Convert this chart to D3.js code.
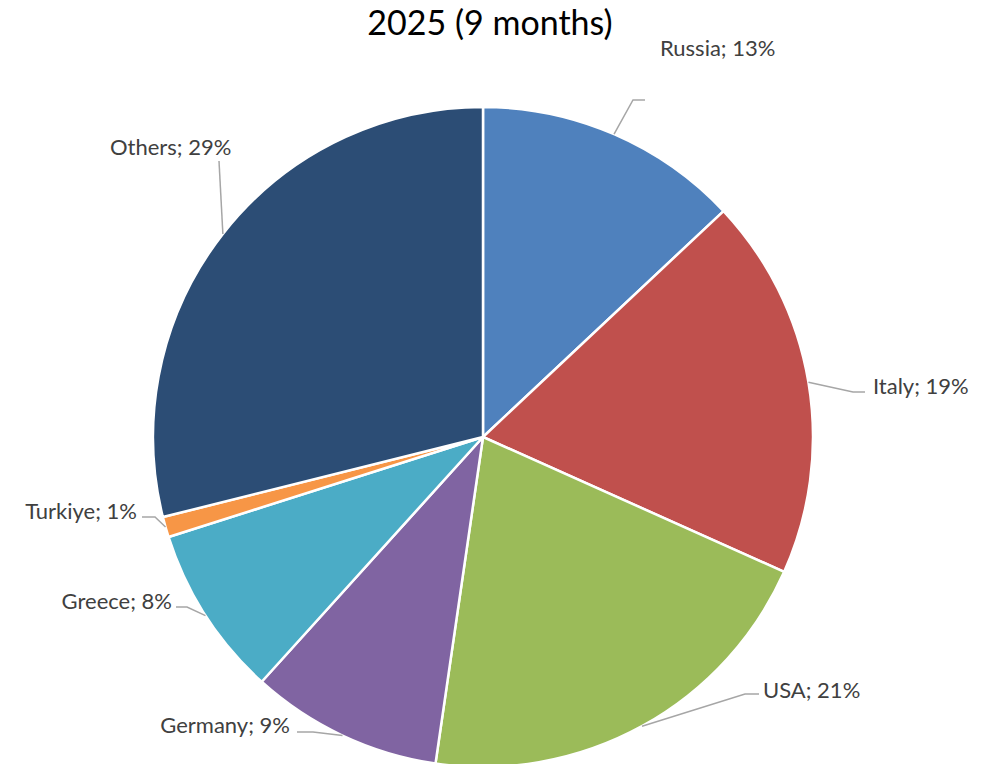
<!DOCTYPE html>
<html>
<head>
<meta charset="utf-8">
<script src="https://cdn.jsdelivr.net/npm/d3@7"></script>
<style>
  html, body { margin: 0; padding: 0; background: #ffffff; }
  svg { display: block; }
</style>
</head>
<body>
<div id="chart"></div>
<script>
// ---- data ----
const title = "2025 (9 months)";
const categories = ["Russia", "Italy", "USA", "Germany", "Greece", "Turkiye", "Others"];
const shares = [13.0, 18.7, 20.6, 9.4, 8.4, 1.0, 28.9];
const colors = ["#4F81BD", "#C0504D", "#9BBB59", "#8064A2", "#4BACC6", "#F79646", "#2C4D75"];

// ---- label layout (offsets from pie centre) ----
const labelLayout = [
  { anchor: "start", text: [177, -381], elbow: [150, -337], end: [162, -337] },
  { anchor: "start", text: [390, -43],  elbow: [370, -45],  end: [382, -45] },
  { anchor: "start", text: [280, 261],  elbow: [262, 257],  end: [276, 257] },
  { anchor: "end",   text: [-193, 296], elbow: [-170, 295], end: [-186, 295] },
  { anchor: "end",   text: [-311, 172], elbow: [-296, 170], end: [-307, 170] },
  { anchor: "end",   text: [-346, 82],  elbow: [-328, 80],  end: [-341, 80] },
  { anchor: "start", text: [-373, -282], elbow: [-264, -276], end: [-264, -276] }
];

const W = 989, H = 764;
const cx = 483, cy = 437, R = 330;
const fontFamily = "Lato, 'Open Sans', 'DejaVu Sans', sans-serif";

const svg = d3.select("#chart").append("svg")
  .attr("width", W).attr("height", H);

svg.append("text")
  .attr("x", 490).attr("y", 35)
  .attr("text-anchor", "middle")
  .attr("font-family", fontFamily)
  .attr("font-size", 34)
  .attr("fill", "#000000")
  .text(title);

const data = categories.map((c, i) => ({ name: c, value: shares[i], color: colors[i], layout: labelLayout[i] }));
const total = d3.sum(shares);

const pie = d3.pie().sort(null).value(d => d.value).startAngle(0).endAngle(2 * Math.PI);
const arcs = pie(data);
const arc = d3.arc().innerRadius(0).outerRadius(R);

const g = svg.append("g").attr("transform", `translate(${cx},${cy})`);

g.selectAll("path.slice").data(arcs).enter().append("path")
  .attr("class", "slice")
  .attr("d", arc)
  .attr("fill", d => d.data.color)
  .attr("stroke", "#ffffff")
  .attr("stroke-width", 2.5)
  .attr("stroke-linejoin", "round");

// leader lines from the slice's outer mid-point
const line = d3.line();
g.selectAll("path.leader").data(arcs).enter().append("path")
  .attr("class", "leader")
  .attr("d", d => {
    const a = (d.startAngle + d.endAngle) / 2;
    const p0 = [R * Math.sin(a), -R * Math.cos(a)];
    const L = d.data.layout;
    return line([p0, L.elbow, L.end]);
  })
  .attr("fill", "none")
  .attr("stroke", "#A6A6A6")
  .attr("stroke-width", 1.5);

const pct = d3.format(".0f");
g.selectAll("text.label").data(arcs).enter().append("text")
  .attr("class", "label")
  .attr("x", d => d.data.layout.text[0])
  .attr("y", d => d.data.layout.text[1])
  .attr("text-anchor", d => d.data.layout.anchor)
  .attr("font-family", fontFamily)
  .attr("font-size", 22)
  .attr("fill", "#404040")
  .text(d => `${d.data.name}; ${pct(d.data.value / total * 100)}%`);
</script>
</body>
</html>
